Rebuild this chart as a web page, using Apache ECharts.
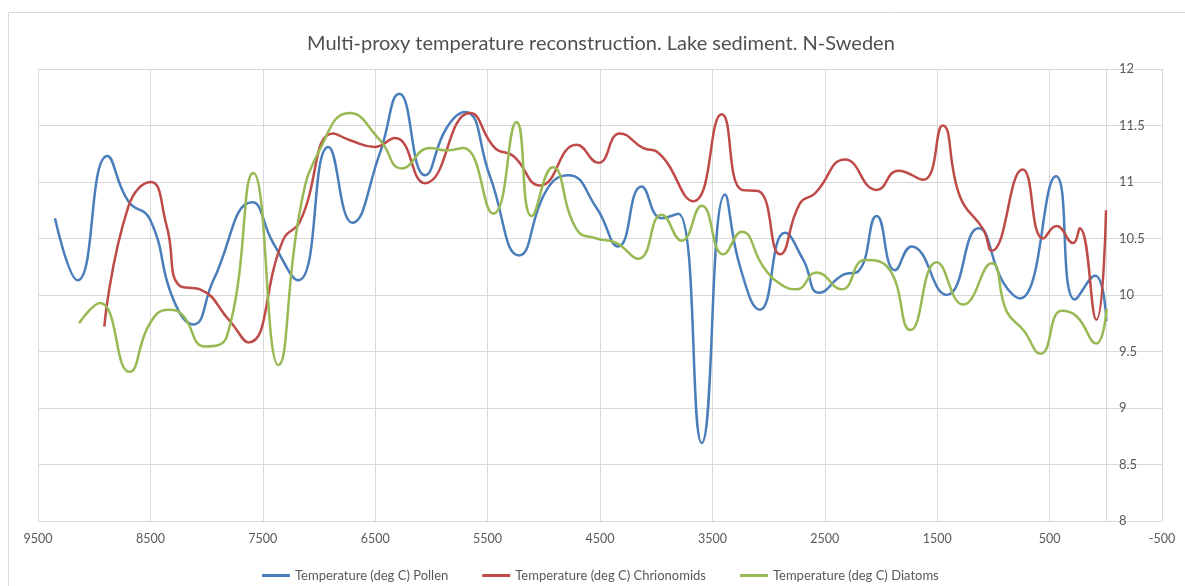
<!DOCTYPE html>
<html>
<head>
<meta charset="utf-8">
<script src="https://cdn.jsdelivr.net/npm/echarts@6/dist/echarts.min.js"></script>
<style>
  html, body { margin: 0; padding: 0; background: #fff; }
  #chartDom { width: 1185px; height: 586px; }
</style>
</head>
<body>
<div id="chartDom"></div>
<script>
// years BP (x) and temperature in deg C (y)
const pollenYears = [9349, 9147, 8883, 8697, 8504, 8296, 8118, 7940, 7593, 7407, 7184, 6917, 6704, 6457, 6285, 6057, 5864, 5701, 5479, 5218, 4975, 4782, 4530, 4337, 4130, 3951, 3803, 3595, 3388, 3254, 3077, 2854, 2691, 2549, 2335, 2202, 2038, 1876, 1728, 1416, 1134, 912, 763, 443, 274, 96, -5];
const pollenTemp = [10.68, 10.13, 11.23, 10.83, 10.67, 9.96, 9.74, 10.13, 10.82, 10.46, 10.13, 11.31, 10.64, 11.26, 11.78, 11.06, 11.48, 11.62, 11.05, 10.35, 10.93, 11.06, 10.77, 10.43, 10.96, 10.68, 10.72, 8.69, 10.89, 10.25, 9.87, 10.55, 10.31, 10.02, 10.18, 10.21, 10.70, 10.22, 10.43, 10.0, 10.59, 10.11, 9.97, 11.05, 9.96, 10.17, 9.77];

const chironYears = [8910, 8697, 8497, 8355, 8237, 8059, 7794, 7629, 7318, 7169, 6873, 6724, 6502, 6324, 6057, 5657, 5434, 5271, 5034, 4708, 4515, 4322, 4114, 3996, 3670, 3417, 3239, 3092, 2899, 2721, 2587, 2320, 2038, 1846, 1624, 1452, 1297, 1090, 1016, 740, 557, 439, 291, 232, 84, -2];
const chironTemp = [9.72, 10.78, 11.0, 10.61, 10.08, 10.05, 9.77, 9.58, 10.49, 10.65, 11.43, 11.37, 11.31, 11.39, 10.99, 11.61, 11.30, 11.23, 10.97, 11.33, 11.17, 11.43, 11.30, 11.27, 10.83, 11.60, 10.93, 10.92, 10.36, 10.81, 10.90, 11.20, 10.93, 11.10, 11.02, 11.50, 10.87, 10.58, 10.39, 11.11, 10.50, 10.61, 10.46, 10.59, 9.78, 10.75];

const diatomYears = [9135, 8948, 8688, 8504, 8341, 8222, 8014, 7821, 7584, 7362, 7169, 6991, 6730, 6457, 6264, 6013, 5864, 5716, 5449, 5243, 5108, 4921, 4708, 4530, 4352, 4159, 3951, 3773, 3595, 3403, 3239, 3047, 2899, 2751, 2573, 2350, 2143, 1935, 1737, 1505, 1268, 1016, 882, 734, 579, 393, 259, 86, -8];
const diatomTemp = [9.75, 9.93, 9.32, 9.75, 9.87, 9.83, 9.545, 9.63, 11.08, 9.38, 10.75, 11.29, 11.61, 11.37, 11.12, 11.30, 11.28, 11.30, 10.72, 11.53, 10.70, 11.13, 10.58, 10.50, 10.46, 10.32, 10.71, 10.48, 10.79, 10.36, 10.56, 10.25, 10.10, 10.05, 10.20, 10.05, 10.31, 10.24, 9.69, 10.29, 9.915, 10.28, 9.855, 9.69, 9.48, 9.86, 9.81, 9.57, 9.88];

const seriesNames = ["Temperature (deg C) Pollen", "Temperature (deg C) Chrionomids", "Temperature (deg C) Diatoms"];

function zip(xs, ys) {
  return xs.map((x, i) => [x, ys[i]]);
}

const chart = echarts.init(document.getElementById("chartDom"));
const font = "Lato, 'Open Sans', sans-serif";
const gridColor = "#d9d9d9";

const options = {
  animation: false,
  color: ["#4a7ebb", "#be4b48", "#98b954"],
  textStyle: { fontFamily: font },
  title: {
    text: "Multi-proxy temperature reconstruction. Lake sediment. N-Sweden",
    left: 302,
    top: 29,
    textStyle: { fontSize: 20, fontWeight: "normal", color: "#505050", fontFamily: font },
  },
  graphic: [
    {
      type: "rect",
      shape: { x: 8.5, y: 12.5, width: 1190, height: 590 },
      style: { fill: "none", stroke: gridColor, lineWidth: 1 },
      silent: true,
    },
  ],
  grid: { left: 38, right: 23, top: 69, bottom: 65 },
  legend: {
    data: seriesNames,
    top: 564,
    left: 257,
    icon: "rect",
    itemWidth: 28,
    itemHeight: 3,
    itemGap: 34,
    textStyle: { color: "#595959", fontSize: 13, fontFamily: font },
  },
  xAxis: {
    type: "value",
    min: -500,
    max: 9500,
    interval: 1000,
    inverse: true,
    axisLine: { show: true, onZero: false, lineStyle: { color: gridColor } },
    axisTick: { show: false },
    splitLine: { show: true, lineStyle: { color: gridColor } },
    axisLabel: { color: "#595959", fontSize: 12.5, margin: 11, formatter: (v) => String(v) },
  },
  yAxis: {
    type: "value",
    min: 8,
    max: 12,
    interval: 0.5,
    position: "right",
    offset: -56, // the value axis crosses the x axis at 0
    axisLine: { show: true, onZero: false, lineStyle: { color: gridColor } },
    axisTick: { show: false },
    splitLine: { show: true, lineStyle: { color: gridColor } },
    axisLabel: { color: "#595959", fontSize: 13, margin: 13 },
  },
  series: [
    { name: seriesNames[0], data: zip(pollenYears, pollenTemp) },
    { name: seriesNames[1], data: zip(chironYears, chironTemp) },
    { name: seriesNames[2], data: zip(diatomYears, diatomTemp) },
  ].map((s) => ({
    ...s,
    type: "line",
    smooth: 0.5,
    showSymbol: false,
    lineStyle: { width: 2.5 },
  })),
};
chart.setOption(options);
</script>
</body>
</html>
